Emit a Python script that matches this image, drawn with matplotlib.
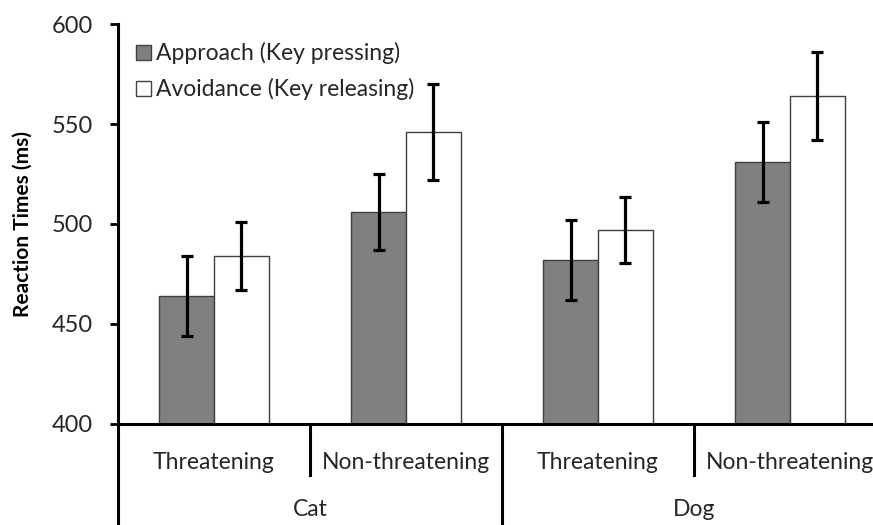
import matplotlib
matplotlib.use("Agg")
import matplotlib.pyplot as plt
import matplotlib.transforms as mtransforms
from matplotlib.patches import Patch

conditions = ["Threatening", "Non-threatening", "Threatening", "Non-threatening"]
animals = ["Cat", "Dog"]
approach = [464, 506, 482, 531]
approach_err = [20, 19, 20, 20]
avoidance = [484, 546, 497, 564]
avoidance_err = [17, 24, 16.5, 22]
series_labels = ["Approach (Key pressing)", "Avoidance (Key releasing)"]

plt.rcParams['font.family'] = ['Lato', 'DejaVu Sans']

fig = plt.figure(figsize=(8.73, 5.25), dpi=100)
W, H = 873, 525
ax = fig.add_axes([118 / W, 101 / H, 768 / W, 400 / H])

x = list(range(len(conditions)))
bw = 0.286
err_kw = dict(ecolor="black", elinewidth=2.3, capsize=4, capthick=2.3)
ax.bar([i - bw / 2 for i in x], approach, bw, yerr=approach_err,
       color="#808080", edgecolor="#404040", linewidth=1.0,
       error_kw=err_kw, label=series_labels[0], zorder=2)
ax.bar([i + bw / 2 for i in x], avoidance, bw, yerr=avoidance_err,
       color="white", edgecolor="#404040", linewidth=1.0,
       error_kw=err_kw, label=series_labels[1], zorder=2)

ax.set_xlim(-0.5, len(conditions) - 0.5)
ax.set_ylim(400, 600)
ax.set_yticks([400, 450, 500, 550, 600])
ax.tick_params(axis="y", length=6, width=2, labelsize=17, pad=12, direction="out")
ax.tick_params(axis="x", length=0, labelsize=16.5, pad=20)
ax.set_xticks(x)
ax.set_xticklabels(conditions)
for lbl in ax.get_xticklabels() + ax.get_yticklabels():
    lbl.set_color("#262626")

for s in ["top", "right"]:
    ax.spines[s].set_visible(False)
ax.spines["left"].set_linewidth(2.2)
ax.spines["bottom"].set_linewidth(2.2)

ax.set_ylabel("Reaction Times (ms)", fontsize=15, fontweight="bold", labelpad=14)

trans = mtransforms.blended_transform_factory(ax.transData, ax.transAxes)
# separators between conditions
for xs in [0.5, 2.5]:
    ax.plot([xs, xs], [0, -0.128], transform=trans, color="black", lw=2.2, clip_on=False)
for xs in [-0.5, 1.5]:
    ax.plot([xs, xs], [0, -0.27], transform=trans, color="black", lw=2.2, clip_on=False)
# animal labels
for k, a in enumerate(animals):
    ax.text(2 * k + 0.5, -0.215, a, transform=trans, ha="center", va="center",
            fontsize=16.5, color="#262626")

leg = ax.legend(handles=[Patch(facecolor="#808080", edgecolor="#404040"),
                         Patch(facecolor="white", edgecolor="#404040")],
                labels=series_labels, loc="upper left", bbox_to_anchor=(0.0, 1.0),
                frameon=False, fontsize=16.5, handlelength=0.65, handleheight=0.65,
                handletextpad=0.2, labelspacing=0.6, borderaxespad=0.4)
for t in leg.get_texts():
    t.set_color("#262626")

fig.savefig("out.png", dpi=100)
